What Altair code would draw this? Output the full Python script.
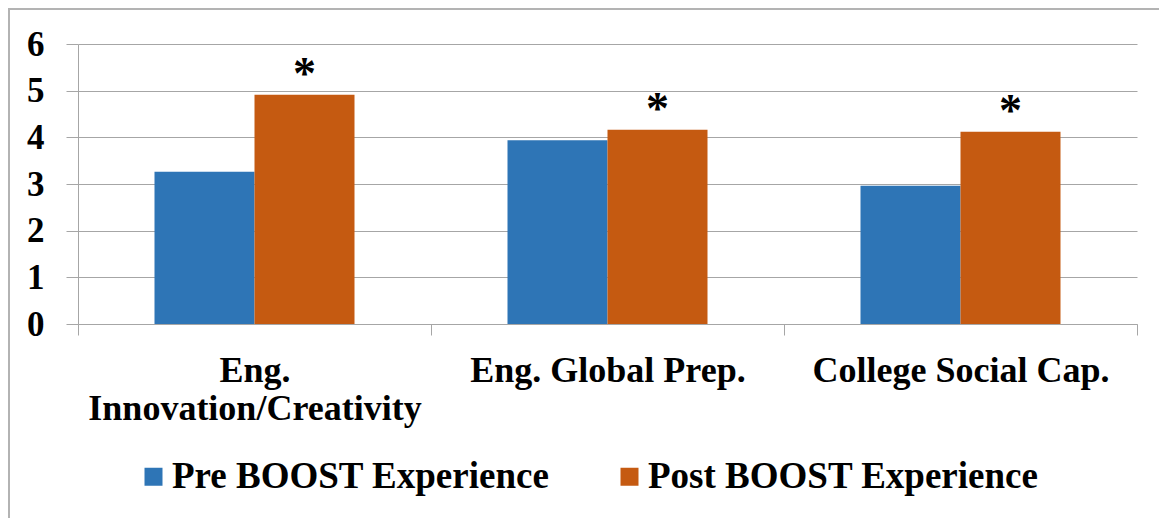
import altair as alt
import pandas as pd

categories = ["Eng. Innovation/Creativity", "Eng. Global Prep.", "College Social Cap."]
series = ["Pre BOOST Experience", "Post BOOST Experience"]
pre_values = [3.26, 3.94, 2.96]
post_values = [4.91, 4.16, 4.12]
post_marks = ["*", "*", "*"]
y_ticks = [0, 1, 2, 3, 4, 5, 6]
colors = ["#2E75B6", "#C55A11"]

rows = []
for i, c in enumerate(categories):
    rows.append({"category": c, "series": series[0], "value": pre_values[i], "sig": ""})
    rows.append({"category": c, "series": series[1], "value": post_values[i], "sig": post_marks[i]})
df = pd.DataFrame(rows)

FONT = "'Liberation Serif', 'Times New Roman', Times, serif"
GRID = "#A6A6A6"

x_enc = alt.X(
    "category:N", sort=categories, title=None,
    scale=alt.Scale(paddingInner=0, paddingOuter=0),
    axis=alt.Axis(
        labelAngle=0, tickBand="extent", tickSize=11, tickColor=GRID,
        domainColor=GRID, labelFont=FONT, labelFontSize=36, labelFontWeight="bold",
        labelColor="black", labelPadding=18, labelLimit=600, labelLineHeight=38,
        labelExpr="datum.label == 'Eng. Innovation/Creativity' ? ['Eng.', 'Innovation/Creativity'] : datum.label",
    ),
)
xo_enc = alt.XOffset("series:N", sort=series,
                     scale=alt.Scale(domain=series, paddingInner=0, paddingOuter=0.765))
y_enc = alt.Y(
    "value:Q", title=None,
    scale=alt.Scale(domain=[0, 6], nice=False),
    axis=alt.Axis(
        values=y_ticks, tickSize=12, tickColor=GRID, domainColor=GRID, gridColor=GRID,
        labelFont=FONT, labelFontSize=35, labelFontWeight="bold", labelColor="black",
        labelPadding=22,
    ),
)

frame = alt.Chart(pd.DataFrame({"a": [0]})).mark_rect(
    fillOpacity=0, stroke="#B3B3B3", strokeWidth=2
).encode(
    x=alt.value(-69), x2=alt.value(1200), y=alt.value(-35), y2=alt.value(600)
)

bars = alt.Chart(df).mark_bar().encode(
    x=x_enc, xOffset=xo_enc, y=y_enc,
    color=alt.Color(
        "series:N", sort=series,
        scale=alt.Scale(domain=series, range=colors),
        legend=alt.Legend(
            title=None, orient="none", legendX=57, legendY=414, direction="horizontal",
            symbolType="square", symbolSize=324, symbolStrokeWidth=0,
            labelFont=FONT, labelFontSize=37, labelFontWeight="bold", labelColor="black",
            labelOffset=0, columnPadding=61, labelLimit=600,
        ),
    ),
)

stars = alt.Chart(df).mark_text(
    font=FONT, fontSize=46, fontWeight="bold", color="black", dy=-6, baseline="alphabetic"
).encode(x=x_enc, xOffset=xo_enc, y=y_enc, text="sig:N")

chart = alt.layer(frame, bars, stars).properties(
    width=1059, height=280,
    padding={"left": 78, "top": 44, "right": 22, "bottom": 194},
    autosize=alt.AutoSizeParams(type="none"),
).configure_view(stroke=None)

chart.save("out.html", embed_options={"renderer": "svg", "actions": False})
